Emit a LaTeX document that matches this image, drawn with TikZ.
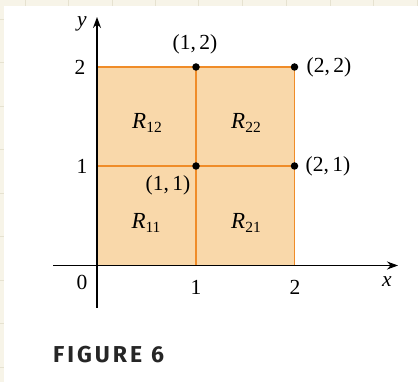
\documentclass[tikz,border=0pt]{standalone}
\usepackage{fontspec}
\setmainfont{Liberation Serif}
\newfontfamily\figfont{Fira Sans}
\usetikzlibrary{arrows.meta}
\definecolor{cream}{RGB}{247,244,232}
\definecolor{creamline}{RGB}{230,226,208}
\definecolor{regfill}{RGB}{249,216,170}
\definecolor{regline}{RGB}{240,140,40}
\tikzset{
  lab/.style={font=\fontsize{21.5}{23}\selectfont, inner sep=0pt},
  reglab/.style={font=\fontsize{23}{25}\selectfont, inner sep=0pt},
  axis/.style={line width=1.3pt, -{Stealth[length=11pt,width=8pt]}},
  gridline/.style={draw=regline, line width=1.6pt},
  dot/.style={circle, fill=black, inner sep=0pt, minimum size=7.5pt},
}
\newcommand{\Rsub}[1]{\textit{R}\kern0pt\raisebox{-4.5pt}{\fontsize{15.5}{17}\selectfont #1}}
\begin{document}
\begin{tikzpicture}[x=1pt,y=-1pt]
\useasboundingbox (0,0) rectangle (418,382);
% background
\fill[cream] (0,0) rectangle (418,382);
\foreach \gx in {25,68,112,155,198,242,286,330,373,417}
  \draw[creamline, line width=0.8pt] (\gx,0) -- (\gx,382);
\foreach \gy in {19,62,106,149,193,236,280,323,367}
  \draw[creamline, line width=0.8pt] (0,\gy) -- (418,\gy);
\fill[white] (4,6) rectangle (418,382);
% key points
\coordinate (O) at (97,265.5);
\coordinate (A) at (196,265.5);
\coordinate (B) at (294.5,265.5);
\coordinate (C) at (97,166);
\coordinate (D) at (196,166);
\coordinate (E) at (294.5,166);
\coordinate (F) at (97,67);
\coordinate (G) at (196,67);
\coordinate (H) at (294.5,67);
\coordinate (xs) at (53,265.5);
\coordinate (xe) at (398,265.5);
\coordinate (ys) at (97,308);
\coordinate (ye) at (97,17);
% region
\fill[regfill] (O) rectangle (H);
\draw[gridline] (F) -- (H) -- (B);
\draw[gridline] (C) -- (E);
\draw[gridline] (G) -- (A);
% axes
\draw[axis] (xs) -- (xe);
\draw[axis] (ys) -- (ye);
% dots
\node[dot] (dG) at (G) {};
\node[dot] (dH) at (H) {};
\node[dot] (dD) at (D) {};
\node[dot] (dE) at (E) {};
% labels
\node[lab] (ly) at (82,24) {\textit{y}};
\node[lab] (lx) at (387,282) {\textit{x}};
\node[lab] (l0) at (82,282) {0};
\node[lab] (lx1) at (196,287) {1};
\node[lab] (lx2) at (295,287) {2};
\node[lab] (ly1) at (82,166) {1};
\node[lab] (ly2) at (80,67) {2};
\node[lab] (p12) at (195,44) {(1,\,2)};
\node[lab] (p22) at (329,67) {(2,\,2)};
\node[lab] (p21) at (328,166) {(2,\,1)};
\node[lab] (p11) at (168,185) {(1,\,1)};
\node[reglab] (r12) at (147,123) {\Rsub{12}};
\node[reglab] (r22) at (246,123) {\Rsub{22}};
\node[reglab] (r11) at (146,223) {\Rsub{11}};
\node[reglab] (r21) at (246,223) {\Rsub{21}};
\node[anchor=west, inner sep=0pt, text=black!85, font=\figfont\bfseries\fontsize{23}{25}\selectfont] (fig) at (53,355) {F\kern3ptI\kern3ptG\kern3ptU\kern3ptR\kern3ptE\kern9pt6};
\end{tikzpicture}
\end{document}
